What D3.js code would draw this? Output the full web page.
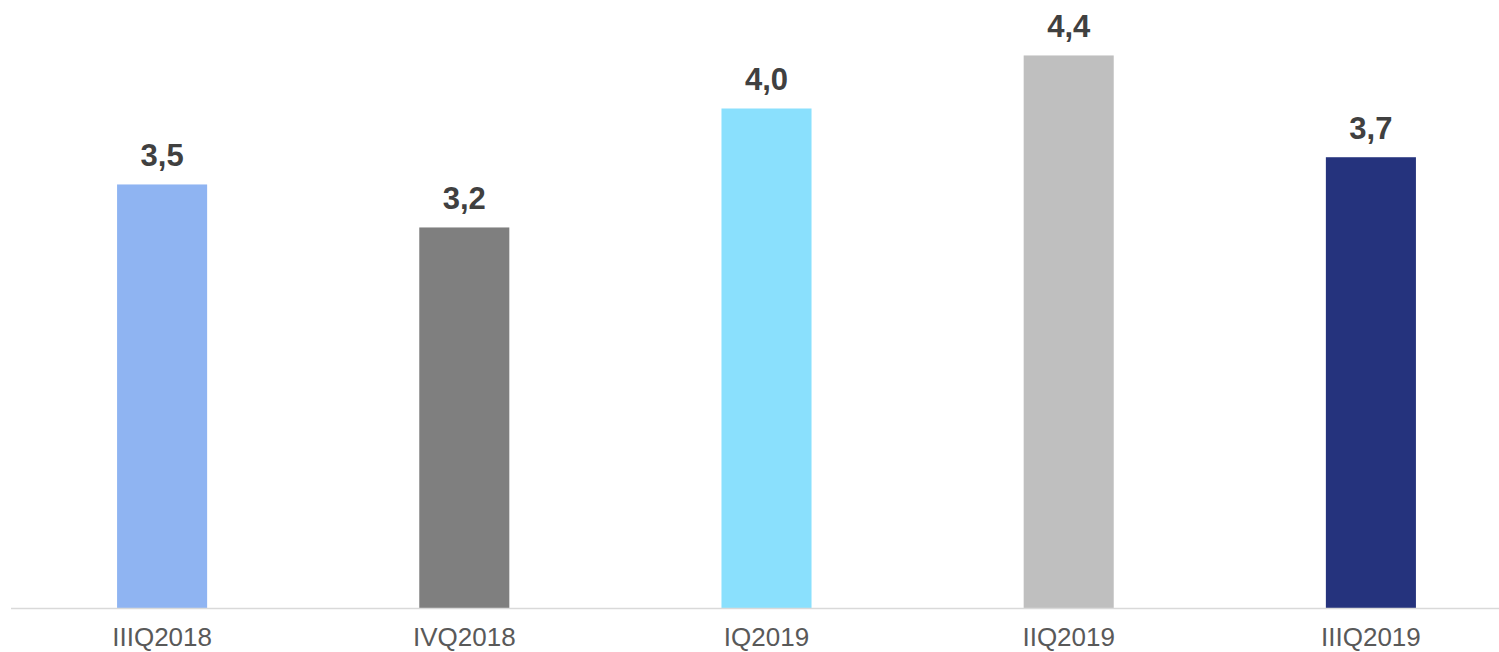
<!DOCTYPE html>
<html>
<head>
<meta charset="utf-8">
<script src="https://cdn.jsdelivr.net/npm/d3@7"></script>
<style>
  html, body { margin: 0; padding: 0; background: #ffffff; }
  svg { display: block; }
</style>
</head>
<body>
<svg id="chart" width="1499" height="652"></svg>
<script>
const categories = ["IIIQ2018", "IVQ2018", "IQ2019", "IIQ2019", "IIIQ2019"];
const values = [3.51, 3.21, 4.04, 4.41, 3.70];
const colors = ["#8fb4f2", "#7f7f7f", "#8ae0fd", "#bfbfbf", "#25337d"];

const svg = d3.select("#chart");
const baseY = 608;

const x = d3.scaleBand()
  .domain(categories)
  .range([11, 1522])
  .paddingInner(0.702)
  .paddingOuter(0.351);

const y = d3.scaleLinear()
  .domain([0.555, 4.6])
  .range([baseY, baseY - (4.6 - 0.555) * 143.33]);

const fmt = v => d3.format(".1f")(v).replace(".", ",");

svg.selectAll("rect.bar")
  .data(values)
  .join("rect")
  .attr("class", "bar")
  .attr("x", (d, i) => x(categories[i]))
  .attr("width", x.bandwidth())
  .attr("y", d => y(d))
  .attr("height", d => baseY - y(d))
  .attr("fill", (d, i) => colors[i]);

svg.selectAll("text.val")
  .data(values)
  .join("text")
  .attr("class", "val")
  .attr("x", (d, i) => x(categories[i]) + x.bandwidth() / 2)
  .attr("y", d => y(d) - 18)
  .attr("text-anchor", "middle")
  .attr("font-family", "'Liberation Sans', Arial, sans-serif")
  .attr("font-weight", "bold")
  .attr("font-size", 31)
  .attr("fill", "#404040")
  .text(d => fmt(d));

// x axis
const xAxis = d3.axisBottom(x).tickSize(0).tickPadding(0);
const gx = svg.append("g")
  .attr("transform", `translate(0,${baseY})`)
  .call(xAxis);
gx.select(".domain").remove();
gx.append("line")
  .attr("x1", 11).attr("x2", 1499)
  .attr("y1", 0.5).attr("y2", 0.5)
  .attr("stroke", "#d9d9d9")
  .attr("stroke-width", 1.5);
gx.selectAll(".tick text")
  .attr("y", 38)
  .attr("dy", 0)
  .attr("font-family", "'Liberation Sans', Arial, sans-serif")
  .attr("font-size", 26)
  .attr("fill", "#595959");
</script>
</body>
</html>
